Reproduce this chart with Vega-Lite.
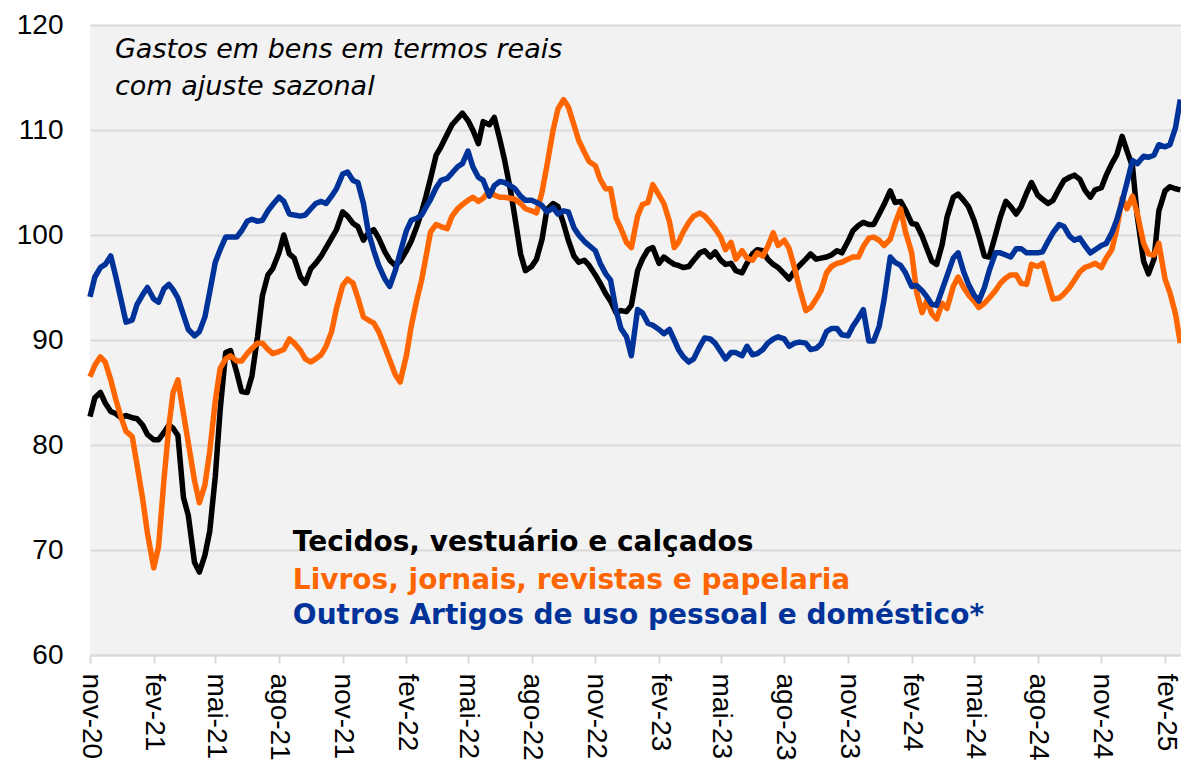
{
  "$schema": "https://vega.github.io/schema/vega-lite/v6.json",
  "width": 1091,
  "height": 630,
  "autosize": {"type": "none"},
  "padding": {"left": 90, "top": 25, "right": 0, "bottom": 109},
  "background": "#ffffff",
  "config": {
    "view": {"fill": "#f2f2f2", "stroke": null},
    "axis": {"labelFont": "Liberation Sans", "labelFontSize": 28, "labelColor": "#000000"}
  },
  "datasets": {
    "one": [{}],
    "series": [
      {"d":"2020-11-01","t":82.7,"l":86.5,"o":94.1},
      {"d":"2020-11-08","t":84.5,"l":87.6,"o":96.0},
      {"d":"2020-11-16","t":85.0,"l":88.4,"o":96.9},
      {"d":"2020-11-23","t":84.0,"l":87.9,"o":97.2},
      {"d":"2020-12-01","t":83.2,"l":86.2,"o":98.0},
      {"d":"2020-12-08","t":83.0,"l":84.4,"o":96.1},
      {"d":"2020-12-16","t":82.6,"l":82.6,"o":93.8},
      {"d":"2020-12-23","t":82.8,"l":81.3,"o":91.7},
      {"d":"2021-01-01","t":82.6,"l":80.8,"o":91.9},
      {"d":"2021-01-08","t":82.5,"l":78.1,"o":93.4},
      {"d":"2021-01-16","t":81.9,"l":74.9,"o":94.3},
      {"d":"2021-01-23","t":81.0,"l":71.6,"o":95.0},
      {"d":"2021-02-01","t":80.5,"l":68.3,"o":93.9},
      {"d":"2021-02-08","t":80.5,"l":70.3,"o":93.6},
      {"d":"2021-02-16","t":81.2,"l":76.8,"o":94.9},
      {"d":"2021-02-23","t":81.9,"l":81.8,"o":95.3},
      {"d":"2021-03-01","t":81.6,"l":85.0,"o":94.8},
      {"d":"2021-03-08","t":80.9,"l":86.2,"o":94.0},
      {"d":"2021-03-16","t":75.0,"l":83.0,"o":92.4},
      {"d":"2021-03-23","t":73.3,"l":80.2,"o":91.0},
      {"d":"2021-04-01","t":68.8,"l":76.6,"o":90.4},
      {"d":"2021-04-08","t":67.9,"l":74.5,"o":90.8},
      {"d":"2021-04-16","t":69.5,"l":76.2,"o":92.2},
      {"d":"2021-04-23","t":71.8,"l":79.4,"o":94.6},
      {"d":"2021-05-01","t":77.0,"l":84.2,"o":97.4},
      {"d":"2021-05-08","t":83.3,"l":87.3,"o":98.6},
      {"d":"2021-05-16","t":88.8,"l":88.2,"o":99.8},
      {"d":"2021-05-23","t":89.0,"l":88.5,"o":99.8},
      {"d":"2021-06-01","t":86.9,"l":88.0,"o":99.8},
      {"d":"2021-06-08","t":85.1,"l":88.0,"o":100.4},
      {"d":"2021-06-16","t":85.0,"l":88.7,"o":101.3},
      {"d":"2021-06-23","t":86.6,"l":89.2,"o":101.5},
      {"d":"2021-07-01","t":90.3,"l":89.7,"o":101.3},
      {"d":"2021-07-08","t":94.2,"l":89.7,"o":101.4},
      {"d":"2021-07-16","t":96.2,"l":89.1,"o":102.3},
      {"d":"2021-07-23","t":96.8,"l":88.7,"o":102.9},
      {"d":"2021-08-01","t":98.3,"l":88.9,"o":103.6},
      {"d":"2021-08-08","t":100.0,"l":89.1,"o":103.2},
      {"d":"2021-08-16","t":98.2,"l":90.1,"o":102.0},
      {"d":"2021-08-23","t":97.8,"l":89.7,"o":101.9},
      {"d":"2021-09-01","t":96.0,"l":89.0,"o":101.8},
      {"d":"2021-09-08","t":95.4,"l":88.2,"o":101.9},
      {"d":"2021-09-16","t":96.8,"l":87.9,"o":102.5},
      {"d":"2021-09-23","t":97.3,"l":88.2,"o":103.0},
      {"d":"2021-10-01","t":98.0,"l":88.6,"o":103.2},
      {"d":"2021-10-08","t":98.8,"l":89.4,"o":103.0},
      {"d":"2021-10-16","t":99.7,"l":90.8,"o":103.7},
      {"d":"2021-10-23","t":100.5,"l":93.0,"o":104.4},
      {"d":"2021-11-01","t":102.2,"l":95.2,"o":105.8},
      {"d":"2021-11-08","t":101.8,"l":95.8,"o":106.0},
      {"d":"2021-11-16","t":101.1,"l":95.4,"o":105.2},
      {"d":"2021-11-23","t":100.8,"l":94.0,"o":105.0},
      {"d":"2021-12-01","t":99.5,"l":92.2,"o":103.0},
      {"d":"2021-12-08","t":100.2,"l":91.9,"o":100.3},
      {"d":"2021-12-16","t":100.5,"l":91.6,"o":98.5},
      {"d":"2021-12-23","t":99.7,"l":90.8,"o":97.1},
      {"d":"2022-01-01","t":98.4,"l":89.3,"o":95.8},
      {"d":"2022-01-08","t":97.6,"l":88.1,"o":95.1},
      {"d":"2022-01-16","t":97.1,"l":86.7,"o":96.6},
      {"d":"2022-01-23","t":97.5,"l":86.0,"o":98.3},
      {"d":"2022-02-01","t":98.5,"l":88.5,"o":100.4},
      {"d":"2022-02-08","t":99.4,"l":91.3,"o":101.4},
      {"d":"2022-02-16","t":100.8,"l":93.8,"o":101.6},
      {"d":"2022-02-23","t":102.2,"l":95.7,"o":101.9},
      {"d":"2022-03-01","t":103.6,"l":97.8,"o":102.6},
      {"d":"2022-03-08","t":105.4,"l":100.3,"o":103.4},
      {"d":"2022-03-16","t":107.6,"l":101.0,"o":104.5},
      {"d":"2022-03-23","t":108.4,"l":100.8,"o":105.2},
      {"d":"2022-04-01","t":109.6,"l":100.6,"o":105.4},
      {"d":"2022-04-08","t":110.5,"l":101.8,"o":105.9},
      {"d":"2022-04-16","t":111.1,"l":102.5,"o":106.5},
      {"d":"2022-04-23","t":111.6,"l":102.9,"o":106.8},
      {"d":"2022-05-01","t":110.9,"l":103.3,"o":108.0},
      {"d":"2022-05-08","t":110.0,"l":103.6,"o":106.5},
      {"d":"2022-05-16","t":108.7,"l":103.2,"o":105.5},
      {"d":"2022-05-23","t":110.8,"l":103.5,"o":105.2},
      {"d":"2022-06-01","t":110.5,"l":104.2,"o":103.7},
      {"d":"2022-06-08","t":111.2,"l":103.8,"o":104.7},
      {"d":"2022-06-16","t":109.1,"l":103.6,"o":105.1},
      {"d":"2022-06-23","t":107.1,"l":103.6,"o":105.0},
      {"d":"2022-07-01","t":104.4,"l":103.5,"o":104.7},
      {"d":"2022-07-08","t":101.6,"l":103.4,"o":104.4},
      {"d":"2022-07-16","t":98.2,"l":103.0,"o":103.7},
      {"d":"2022-07-23","t":96.6,"l":102.5,"o":103.3},
      {"d":"2022-08-01","t":97.0,"l":102.3,"o":103.3},
      {"d":"2022-08-08","t":97.7,"l":102.1,"o":103.1},
      {"d":"2022-08-16","t":99.6,"l":104.1,"o":102.8},
      {"d":"2022-08-23","t":102.4,"l":106.6,"o":102.2},
      {"d":"2022-09-01","t":103.0,"l":110.0,"o":102.6},
      {"d":"2022-09-08","t":102.7,"l":112.0,"o":102.0},
      {"d":"2022-09-16","t":101.1,"l":112.9,"o":102.3},
      {"d":"2022-09-23","t":99.5,"l":112.2,"o":102.2},
      {"d":"2022-10-01","t":98.0,"l":110.5,"o":100.7},
      {"d":"2022-10-08","t":97.4,"l":109.0,"o":100.0},
      {"d":"2022-10-16","t":97.6,"l":107.9,"o":99.4},
      {"d":"2022-10-23","t":97.1,"l":107.0,"o":99.0},
      {"d":"2022-11-01","t":96.2,"l":106.6,"o":98.5},
      {"d":"2022-11-08","t":95.4,"l":105.3,"o":97.3},
      {"d":"2022-11-16","t":94.4,"l":104.4,"o":96.3},
      {"d":"2022-11-23","t":93.7,"l":104.4,"o":95.7},
      {"d":"2022-12-01","t":92.6,"l":101.6,"o":92.8},
      {"d":"2022-12-08","t":92.8,"l":100.6,"o":91.1},
      {"d":"2022-12-16","t":92.7,"l":99.3,"o":90.3},
      {"d":"2022-12-23","t":93.3,"l":98.8,"o":88.5},
      {"d":"2023-01-01","t":96.6,"l":101.8,"o":92.9},
      {"d":"2023-01-08","t":97.7,"l":102.9,"o":92.6},
      {"d":"2023-01-16","t":98.6,"l":103.1,"o":91.6},
      {"d":"2023-01-23","t":98.8,"l":104.8,"o":91.4},
      {"d":"2023-02-01","t":97.3,"l":103.8,"o":91.0},
      {"d":"2023-02-08","t":97.9,"l":103.0,"o":90.6},
      {"d":"2023-02-16","t":97.5,"l":101.3,"o":91.0},
      {"d":"2023-02-23","t":97.2,"l":98.8,"o":90.0},
      {"d":"2023-03-01","t":97.1,"l":99.3,"o":89.1},
      {"d":"2023-03-08","t":96.9,"l":100.3,"o":88.4},
      {"d":"2023-03-16","t":97.0,"l":101.2,"o":87.9},
      {"d":"2023-03-23","t":97.6,"l":101.8,"o":88.2},
      {"d":"2023-04-01","t":98.3,"l":102.1,"o":89.4},
      {"d":"2023-04-08","t":98.5,"l":101.8,"o":90.2},
      {"d":"2023-04-16","t":97.9,"l":101.2,"o":90.1},
      {"d":"2023-04-23","t":98.4,"l":100.6,"o":89.7},
      {"d":"2023-05-01","t":97.6,"l":99.8,"o":88.9},
      {"d":"2023-05-08","t":97.2,"l":98.6,"o":88.2},
      {"d":"2023-05-16","t":97.3,"l":99.3,"o":88.8},
      {"d":"2023-05-23","t":96.6,"l":97.7,"o":88.8},
      {"d":"2023-06-01","t":96.4,"l":98.5,"o":88.5},
      {"d":"2023-06-08","t":97.3,"l":97.8,"o":89.4},
      {"d":"2023-06-16","t":98.2,"l":97.6,"o":88.6},
      {"d":"2023-06-23","t":98.6,"l":98.3,"o":88.7},
      {"d":"2023-07-01","t":98.5,"l":98.0,"o":89.1},
      {"d":"2023-07-08","t":97.7,"l":98.9,"o":89.7},
      {"d":"2023-07-16","t":97.2,"l":100.2,"o":90.1},
      {"d":"2023-07-23","t":96.9,"l":99.0,"o":90.3},
      {"d":"2023-08-01","t":96.3,"l":99.5,"o":90.1},
      {"d":"2023-08-08","t":95.8,"l":98.7,"o":89.4},
      {"d":"2023-08-16","t":96.6,"l":96.8,"o":89.7},
      {"d":"2023-08-23","t":97.1,"l":94.9,"o":89.8},
      {"d":"2023-09-01","t":97.7,"l":92.8,"o":89.7},
      {"d":"2023-09-08","t":98.2,"l":93.1,"o":89.1},
      {"d":"2023-09-16","t":97.7,"l":93.9,"o":89.2},
      {"d":"2023-09-23","t":97.8,"l":94.7,"o":89.6},
      {"d":"2023-10-01","t":97.9,"l":96.4,"o":90.8},
      {"d":"2023-10-08","t":98.1,"l":97.0,"o":91.1},
      {"d":"2023-10-16","t":98.5,"l":97.3,"o":91.1},
      {"d":"2023-10-23","t":98.3,"l":97.4,"o":90.5},
      {"d":"2023-11-01","t":99.4,"l":97.7,"o":90.4},
      {"d":"2023-11-08","t":100.4,"l":97.9,"o":91.3},
      {"d":"2023-11-16","t":100.9,"l":97.9,"o":92.1},
      {"d":"2023-11-23","t":101.2,"l":98.9,"o":92.9},
      {"d":"2023-12-01","t":101.0,"l":99.7,"o":89.9},
      {"d":"2023-12-08","t":101.0,"l":99.8,"o":89.9},
      {"d":"2023-12-16","t":102.0,"l":99.5,"o":91.3},
      {"d":"2023-12-23","t":102.9,"l":99.0,"o":93.8},
      {"d":"2024-01-01","t":104.2,"l":99.6,"o":97.9},
      {"d":"2024-01-08","t":103.1,"l":101.1,"o":97.4},
      {"d":"2024-01-16","t":103.2,"l":102.5,"o":97.1},
      {"d":"2024-01-23","t":102.4,"l":100.3,"o":96.4},
      {"d":"2024-02-01","t":101.1,"l":98.3,"o":95.1},
      {"d":"2024-02-08","t":101.0,"l":94.6,"o":95.2},
      {"d":"2024-02-16","t":99.9,"l":92.6,"o":94.7},
      {"d":"2024-02-23","t":98.7,"l":93.8,"o":94.1},
      {"d":"2024-03-01","t":97.5,"l":92.5,"o":93.4},
      {"d":"2024-03-08","t":97.2,"l":92.0,"o":93.3},
      {"d":"2024-03-16","t":99.1,"l":93.5,"o":94.8},
      {"d":"2024-03-23","t":101.7,"l":93.0,"o":96.1},
      {"d":"2024-04-01","t":103.6,"l":95.1,"o":97.8},
      {"d":"2024-04-08","t":103.9,"l":96.0,"o":98.3},
      {"d":"2024-04-16","t":103.3,"l":95.0,"o":96.5},
      {"d":"2024-04-23","t":102.7,"l":94.3,"o":95.3},
      {"d":"2024-05-01","t":101.4,"l":93.7,"o":94.3},
      {"d":"2024-05-08","t":99.9,"l":93.1,"o":93.7},
      {"d":"2024-05-16","t":98.0,"l":93.5,"o":95.0},
      {"d":"2024-05-23","t":97.9,"l":94.0,"o":96.6},
      {"d":"2024-06-01","t":100.0,"l":94.7,"o":98.3},
      {"d":"2024-06-08","t":101.7,"l":95.4,"o":98.3},
      {"d":"2024-06-16","t":103.2,"l":95.9,"o":98.1},
      {"d":"2024-06-23","t":102.7,"l":96.2,"o":97.9},
      {"d":"2024-07-01","t":102.0,"l":96.2,"o":98.7},
      {"d":"2024-07-08","t":102.7,"l":95.4,"o":98.7},
      {"d":"2024-07-16","t":104.0,"l":95.3,"o":98.3},
      {"d":"2024-07-23","t":105.0,"l":97.2,"o":98.3},
      {"d":"2024-08-01","t":103.8,"l":97.0,"o":98.3},
      {"d":"2024-08-08","t":103.4,"l":97.3,"o":98.4},
      {"d":"2024-08-16","t":103.0,"l":95.5,"o":99.4},
      {"d":"2024-08-23","t":103.3,"l":93.9,"o":100.2},
      {"d":"2024-09-01","t":104.4,"l":94.0,"o":101.0},
      {"d":"2024-09-08","t":105.2,"l":94.4,"o":100.8},
      {"d":"2024-09-16","t":105.5,"l":95.0,"o":99.9},
      {"d":"2024-09-23","t":105.7,"l":95.7,"o":99.5},
      {"d":"2024-10-01","t":105.3,"l":96.5,"o":99.7},
      {"d":"2024-10-08","t":104.3,"l":96.9,"o":99.0},
      {"d":"2024-10-16","t":103.6,"l":97.1,"o":98.3},
      {"d":"2024-10-23","t":104.3,"l":97.3,"o":98.6},
      {"d":"2024-11-01","t":104.5,"l":96.9,"o":99.0},
      {"d":"2024-11-08","t":105.7,"l":97.8,"o":99.2},
      {"d":"2024-11-16","t":106.8,"l":98.6,"o":100.2},
      {"d":"2024-11-23","t":107.6,"l":100.5,"o":101.4},
      {"d":"2024-12-01","t":109.4,"l":103.5,"o":103.2},
      {"d":"2024-12-08","t":108.0,"l":102.5,"o":105.0},
      {"d":"2024-12-16","t":106.5,"l":103.7,"o":107.1},
      {"d":"2024-12-23","t":101.7,"l":102.0,"o":106.8},
      {"d":"2025-01-01","t":97.5,"l":99.2,"o":107.5},
      {"d":"2025-01-08","t":96.3,"l":98.2,"o":107.4},
      {"d":"2025-01-16","t":97.7,"l":98.1,"o":107.6},
      {"d":"2025-01-23","t":102.3,"l":99.2,"o":108.6},
      {"d":"2025-02-01","t":104.2,"l":95.8,"o":108.4},
      {"d":"2025-02-08","t":104.6,"l":94.5,"o":108.6},
      {"d":"2025-02-16","t":104.4,"l":92.5,"o":110.2},
      {"d":"2025-02-23","t":104.3,"l":89.7,"o":112.9}
    ]
  },
  "layer": [
    {
      "data": {"name": "series"},
      "mark": {"type": "line", "color": "#000000", "strokeWidth": 5.5, "strokeJoin": "round"},
      "encoding": {
        "x": {
          "field": "d", "type": "temporal", "title": null,
          "scale": {"type": "utc", "domain": [{"year": 2020, "month": 11, "date": 1, "utc": true}, {"year": 2025, "month": 2, "date": 24, "utc": true}]},
          "axis": {
            "values": [
              {"year": 2020, "month": 11, "date": 1, "utc": true},
              {"year": 2021, "month": 2, "date": 1, "utc": true},
              {"year": 2021, "month": 5, "date": 1, "utc": true},
              {"year": 2021, "month": 8, "date": 1, "utc": true},
              {"year": 2021, "month": 11, "date": 1, "utc": true},
              {"year": 2022, "month": 2, "date": 1, "utc": true},
              {"year": 2022, "month": 5, "date": 1, "utc": true},
              {"year": 2022, "month": 8, "date": 1, "utc": true},
              {"year": 2022, "month": 11, "date": 1, "utc": true},
              {"year": 2023, "month": 2, "date": 1, "utc": true},
              {"year": 2023, "month": 5, "date": 1, "utc": true},
              {"year": 2023, "month": 8, "date": 1, "utc": true},
              {"year": 2023, "month": 11, "date": 1, "utc": true},
              {"year": 2024, "month": 2, "date": 1, "utc": true},
              {"year": 2024, "month": 5, "date": 1, "utc": true},
              {"year": 2024, "month": 8, "date": 1, "utc": true},
              {"year": 2024, "month": 11, "date": 1, "utc": true},
              {"year": 2025, "month": 2, "date": 1, "utc": true}
            ],
            "labelExpr": "['jan','fev','mar','abr','mai','jun','jul','ago','set','out','nov','dez'][utcmonth(datum.value)] + '-' + utcFormat(datum.value, '%y')",
            "labelAngle": 90,
            "labelPadding": 10,
            "labelOverlap": false,
            "labelFlush": false,
            "labelBound": false,
            "grid": false,
            "domainColor": "#d9d9d9",
            "domainWidth": 2,
            "tickColor": "#d9d9d9",
            "tickWidth": 2,
            "tickSize": 8
          }
        },
        "y": {
          "field": "t", "type": "quantitative", "title": null,
          "scale": {"domain": [60, 120], "nice": false, "zero": false},
          "axis": {
            "values": [60, 70, 80, 90, 100, 110, 120],
            "grid": true,
            "gridColor": "#d9d9d9",
            "gridWidth": 2,
            "domain": false,
            "ticks": false,
            "labelPadding": 27
          }
        }
      }
    },
    {
      "data": {"name": "series"},
      "mark": {"type": "line", "color": "#FF6600", "strokeWidth": 5.5, "strokeJoin": "round"},
      "encoding": {
        "x": {"field": "d", "type": "temporal"},
        "y": {"field": "l", "type": "quantitative"}
      }
    },
    {
      "data": {"name": "series"},
      "mark": {"type": "line", "color": "#003399", "strokeWidth": 5.5, "strokeJoin": "round"},
      "encoding": {
        "x": {"field": "d", "type": "temporal"},
        "y": {"field": "o", "type": "quantitative"}
      }
    },
    {
      "data": {"name": "one"},
      "mark": {"type": "text", "text": "Gastos em bens em termos reais", "font": "DejaVu Sans", "fontStyle": "italic", "fontSize": 27, "align": "left", "baseline": "alphabetic", "color": "#000000"},
      "encoding": {
        "x": {"datum": {"year": 2020, "month": 12, "date": 7, "utc": true}, "type": "temporal"},
        "y": {"datum": 116.9, "type": "quantitative"}
      }
    },
    {
      "data": {"name": "one"},
      "mark": {"type": "text", "text": "com ajuste sazonal", "font": "DejaVu Sans", "fontStyle": "italic", "fontSize": 27, "align": "left", "baseline": "alphabetic", "color": "#000000"},
      "encoding": {
        "x": {"datum": {"year": 2020, "month": 12, "date": 7, "utc": true}, "type": "temporal"},
        "y": {"datum": 113.3, "type": "quantitative"}
      }
    },
    {
      "data": {"name": "one"},
      "mark": {"type": "text", "text": "Tecidos, vestuário e calçados", "font": "DejaVu Sans", "fontWeight": "bold", "fontSize": 28, "align": "left", "baseline": "alphabetic", "color": "#000000"},
      "encoding": {
        "x": {"datum": {"year": 2021, "month": 8, "date": 21, "utc": true}, "type": "temporal"},
        "y": {"datum": 69.9, "type": "quantitative"}
      }
    },
    {
      "data": {"name": "one"},
      "mark": {"type": "text", "text": "Livros, jornais, revistas e papelaria", "font": "DejaVu Sans", "fontWeight": "bold", "fontSize": 28, "align": "left", "baseline": "alphabetic", "color": "#FF6600"},
      "encoding": {
        "x": {"datum": {"year": 2021, "month": 8, "date": 21, "utc": true}, "type": "temporal"},
        "y": {"datum": 66.3, "type": "quantitative"}
      }
    },
    {
      "data": {"name": "one"},
      "mark": {"type": "text", "text": "Outros Artigos de uso pessoal e doméstico*", "font": "DejaVu Sans", "fontWeight": "bold", "fontSize": 28, "align": "left", "baseline": "alphabetic", "color": "#003399"},
      "encoding": {
        "x": {"datum": {"year": 2021, "month": 8, "date": 21, "utc": true}, "type": "temporal"},
        "y": {"datum": 63.0, "type": "quantitative"}
      }
    }
  ]
}
